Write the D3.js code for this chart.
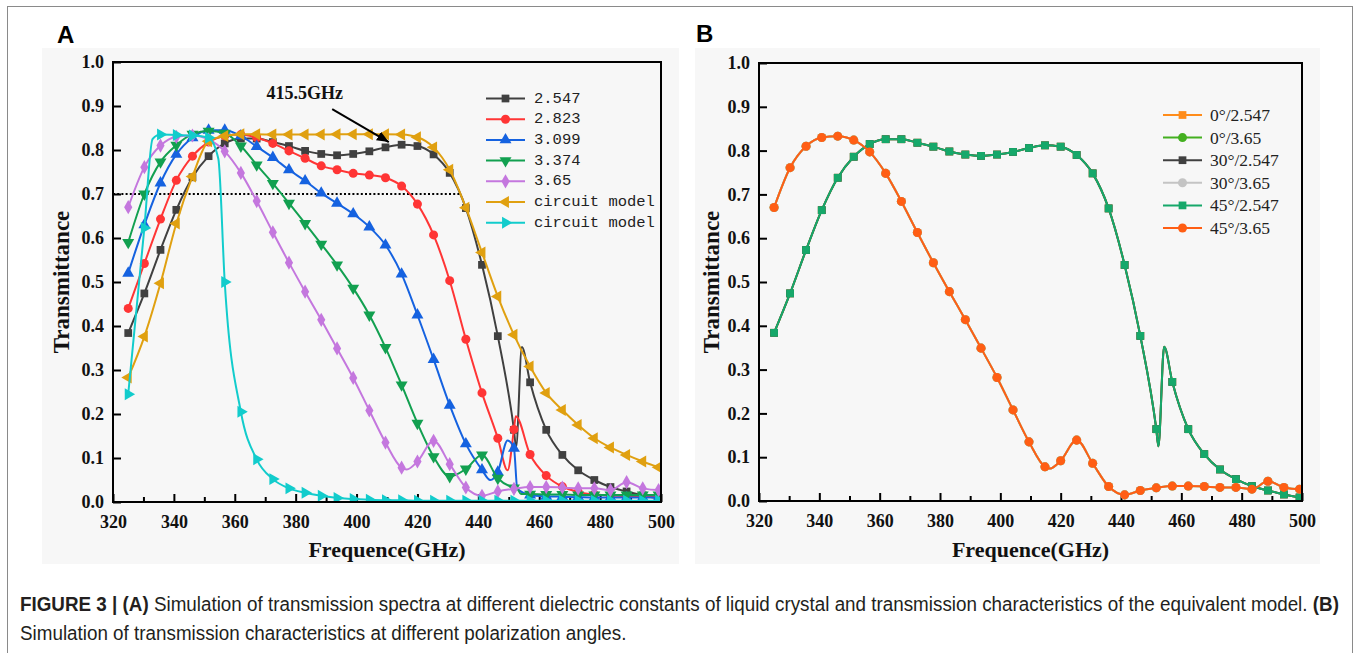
<!DOCTYPE html>
<html><head><meta charset="utf-8">
<script src="https://cdn.jsdelivr.net/npm/d3@7"></script>
<style>body{margin:0;background:#fff} svg{display:block}</style>
</head><body>
<svg id="c" width="1356" height="653"></svg>
<script>
// ---------- DATA ----------
const markerFreq = [325,330.3,335.6,340.8,346.1,351.4,356.7,362.0,367.2,372.5,377.8,383.1,388.4,393.6,398.9,404.2,409.5,414.8,420.0,425.3,430.6,435.9,441.2,446.4,451.7,457.0,462.3,467.6,472.8,478.1,483.4,488.7,494.0,499.2];

const v2547 = [0.384,0.474,0.573,0.664,0.738,0.786,0.815,0.826,0.826,0.818,0.809,0.798,0.791,0.788,0.791,0.797,0.806,0.812,0.809,0.790,0.748,0.668,0.539,0.377,0.164,0.272,0.164,0.107,0.072,0.050,0.034,0.024,0.015,0.008];
const e2547 = [[452.4,0.125],[454.3,0.352],[500,0.007]];

const v2823 = [0.440,0.542,0.643,0.731,0.786,0.818,0.832,0.835,0.828,0.815,0.798,0.781,0.764,0.755,0.747,0.743,0.737,0.718,0.677,0.607,0.503,0.370,0.248,0.145,0.165,0.108,0.060,0.035,0.023,0.017,0.015,0.013,0.012,0.012];
const e2823 = [[449.6,0.072],[452.3,0.195],[500,0.012]];

const v3099 = [0.520,0.630,0.725,0.790,0.828,0.845,0.845,0.832,0.808,0.783,0.755,0.730,0.702,0.679,0.655,0.625,0.584,0.518,0.425,0.324,0.220,0.132,0.073,0.068,0.122,0.016,0.013,0.012,0.011,0.010,0.010,0.010,0.010,0.010];
const e3099 = [[443.9,0.050],[449.6,0.140],[452.8,0.030],[500,0.010]];

const v3374 = [0.590,0.700,0.773,0.811,0.836,0.843,0.838,0.809,0.766,0.724,0.679,0.633,0.586,0.539,0.486,0.425,0.351,0.266,0.179,0.103,0.058,0.075,0.107,0.054,0.032,0.018,0.017,0.017,0.016,0.016,0.016,0.016,0.016,0.016];
const e3374 = [[452.8,0.030],[454.0,0.018],[500,0.016]];

const v365 = [0.670,0.761,0.810,0.830,0.833,0.824,0.797,0.748,0.684,0.613,0.544,0.478,0.414,0.349,0.282,0.208,0.135,0.078,0.092,0.139,0.086,0.033,0.014,0.024,0.030,0.034,0.034,0.033,0.031,0.031,0.027,0.045,0.031,0.027];
const e365 = [[416.5,0.074],[500,0.027]];

const vCircGold = [0.283,0.376,0.497,0.633,0.740,0.820,0.832,0.836,0.836,0.835,0.835,0.835,0.835,0.836,0.836,0.836,0.836,0.835,0.829,0.806,0.755,0.669,0.567,0.467,0.380,0.308,0.248,0.209,0.175,0.145,0.124,0.107,0.092,0.079];
const eCircGold = [[500,0.077]];

const vCircCyan = [0.245,0.623,0.835,0.834,0.833,0.828,0.500,0.205,0.097,0.052,0.031,0.021,0.014,0.009,0.007,0.005,0.004,0.004,0.003,0.003,0.003,0.003,0.003,0.003,0.003,0.003,0.003,0.003,0.003,0.003,0.003,0.003,0.003,0.003];
const eCircCyan = [[333.0,0.825],[354.6,0.78],[500,0.003]];

const seriesA = [
  {name:"2.547", vals:v2547, extra:e2547, color:"#404040", sym:"square"},
  {name:"2.823", vals:v2823, extra:e2823, color:"#FF3535", sym:"circle"},
  {name:"3.099", vals:v3099, extra:e3099, color:"#1562E0", sym:"up"},
  {name:"3.374", vals:v3374, extra:e3374, color:"#12A050", sym:"down"},
  {name:"3.65", vals:v365, extra:e365, color:"#C477DE", sym:"diamond"},
  {name:"circuit model", vals:vCircGold, extra:eCircGold, color:"#E0A010", sym:"left"},
  {name:"circuit model", vals:vCircCyan, extra:eCircCyan, color:"#12CCCC", sym:"right"}
];

const seriesB = [
  {name:"0°/2.547", vals:v2547, extra:e2547, color:"#FF8C1A", sym:"square"},
  {name:"0°/3.65", vals:v365, extra:e365, color:"#44B020", sym:"circle"},
  {name:"30°/2.547", vals:v2547, extra:e2547, color:"#404040", sym:"square"},
  {name:"30°/3.65", vals:v365, extra:e365, color:"#C4C4C4", sym:"circle"},
  {name:"45°/2.547", vals:v2547, extra:e2547, color:"#16A86A", sym:"square"},
  {name:"45°/3.65", vals:v365, extra:e365, color:"#FF5E14", sym:"circle"}
];

const xTicks = [320,340,360,380,400,420,440,460,480,500];
const xMinor = [330,350,370,390,410,430,450,470,490];
const yTicks = [0,0.1,0.2,0.3,0.4,0.5,0.6,0.7,0.8,0.9,1.0];

const captionLine1 = [["FIGURE 3 | (A)",true],[" Simulation of transmission spectra at different dielectric constants of liquid crystal and transmission characteristics of the equivalent model. ",false],["(B)",true]];
const captionLine2 = "Simulation of transmission characteristics at different polarization angles.";

// ---------- DRAW ----------
const svg = d3.select("#c");
const SERIF = "'Liberation Serif','Times New Roman',serif";

svg.append("rect").attr("x",7.5).attr("y",6.5).attr("width",1345).attr("height",660)
  .attr("fill","none").attr("stroke","#8a8a8a").attr("stroke-width",1);

svg.append("rect").attr("x",42).attr("y",48).attr("width",637).attr("height",516).attr("fill","#f7f7f7");
svg.append("rect").attr("x",695).attr("y",48).attr("width",625).attr("height",516).attr("fill","#f7f7f7");

svg.append("text").attr("x",57).attr("y",43).text("A")
  .style("font-family","'Liberation Sans',Arial,sans-serif").style("font-weight","bold").style("font-size","24px");
svg.append("text").attr("x",696).attr("y",42).text("B")
  .style("font-family","'Liberation Sans',Arial,sans-serif").style("font-weight","bold").style("font-size","24px");

const defs = svg.append("defs");
defs.append("marker").attr("id","arrow").attr("viewBox","0 0 12 10").attr("refX",12).attr("refY",5)
  .attr("markerWidth",12).attr("markerHeight",10).attr("markerUnits","userSpaceOnUse").attr("orient","auto")
  .append("path").attr("d","M0,0 L12,5 L0,10 Z").attr("fill","#000");

function symPath(sym, size){
  const map = {square:d3.symbolSquare, circle:d3.symbolCircle, up:d3.symbolTriangle, down:d3.symbolTriangle,
               left:d3.symbolTriangle, right:d3.symbolTriangle, diamond:d3.symbolDiamond};
  return d3.symbol().type(map[sym]).size(size)();
}
const rot = {square:0,circle:0,up:0,down:180,left:-90,right:90,diamond:0};
const symSize = {square:60,circle:64,up:62,down:62,left:62,right:62,diamond:58};

function drawPanel(cfg){
  const x = d3.scaleLinear().domain([320,500]).range([cfg.x0,cfg.x1]);
  const y = d3.scaleLinear().domain([0,1]).range([cfg.y0,cfg.y1]);
  const g = svg.append("g");
  const clipId = "clip"+cfg.id;
  defs.append("clipPath").attr("id",clipId).append("rect")
    .attr("x",cfg.x0).attr("y",cfg.y1).attr("width",cfg.x1-cfg.x0).attr("height",cfg.y0-cfg.y1);

  const ax = g.append("g").attr("transform",`translate(0,${cfg.y0})`)
    .call(d3.axisBottom(x).tickValues(xTicks).tickSize(-8).tickPadding(13).tickFormat(d3.format("d")));
  const axm = g.append("g").attr("transform",`translate(0,${cfg.y0})`)
    .call(d3.axisBottom(x).tickValues(xMinor).tickSize(-5).tickFormat(""));
  const ay = g.append("g").attr("transform",`translate(${cfg.x0},0)`)
    .call(d3.axisLeft(y).tickValues(yTicks).tickSize(-8).tickPadding(9).tickFormat(d3.format(".1f")));
  [ax,axm,ay].forEach(a=>{
    a.select(".domain").remove();
    a.selectAll(".tick line").attr("stroke","#000").attr("stroke-width",2);
    a.selectAll("text").style("font-family",SERIF).style("font-weight","bold").style("font-size","18px").attr("fill","#111");
  });

  const line = d3.line().x(d=>x(d[0])).y(d=>y(d[1])).curve(d3.curveMonotoneX);
  const dg = g.append("g").attr("clip-path",`url(#${clipId})`);
  if (cfg.extraDraw) cfg.extraDraw(dg, x, y);
  cfg.series.forEach(s=>{
    const pts = markerFreq.map((f,i)=>[f,s.vals[i]]).concat(s.extra).sort((a,b)=>a[0]-b[0]);
    dg.append("path").attr("d",line(pts)).attr("fill","none").attr("stroke",s.color).attr("stroke-width",2);
    dg.selectAll(null).data(markerFreq.map((f,i)=>[f,s.vals[i]])).enter().append("path")
      .attr("d",symPath(s.sym,symSize[s.sym]))
      .attr("transform",d=>`translate(${x(d[0])},${y(d[1])}) rotate(${rot[s.sym]})`)
      .attr("fill",s.color);
  });

  g.append("rect").attr("x",cfg.x0).attr("y",cfg.y1).attr("width",cfg.x1-cfg.x0).attr("height",cfg.y0-cfg.y1)
    .attr("fill","none").attr("stroke","#000").attr("stroke-width",2);

  g.append("text").attr("transform",`translate(${cfg.ylabX},${(cfg.y0+cfg.y1)/2}) rotate(-90)`)
    .attr("text-anchor","middle").attr("dominant-baseline","central").text("Transmittance")
    .style("font-family",SERIF).style("font-weight","bold").style("font-size","23px").attr("fill","#111");
  g.append("text").attr("x",(cfg.x0+cfg.x1)/2).attr("y",557).attr("text-anchor","middle").text("Frequence(GHz)")
    .style("font-family",SERIF).style("font-weight","bold").style("font-size","22px").attr("fill","#111");

  const lg = g.append("g");
  cfg.series.forEach((s,i)=>{
    const ly = cfg.leg.y + i*cfg.leg.dy;
    lg.append("line").attr("x1",cfg.leg.x1).attr("x2",cfg.leg.x2).attr("y1",ly).attr("y2",ly)
      .attr("stroke",s.color).attr("stroke-width",2);
    lg.append("path").attr("d",symPath(s.sym,symSize[s.sym]))
      .attr("transform",`translate(${(cfg.leg.x1+cfg.leg.x2)/2},${ly}) rotate(${rot[s.sym]})`).attr("fill",s.color);
    lg.append("text").attr("x",cfg.leg.tx).attr("y",ly).attr("dominant-baseline","central").text(s.name)
      .style("font-family",cfg.leg.font).style("font-size",cfg.leg.size).attr("fill","#222");
  });
  return {x,y,g};
}

const A = drawPanel({id:"A", x0:113, x1:661, y0:502, y1:62, ylabX:61, series:seriesA,
  leg:{x1:486,x2:525,tx:534,y:98.5,dy:20.7,font:"'Liberation Mono','Courier New',monospace",size:"15.5px"},
  extraDraw:(dg,x,y)=>{
    dg.append("line").attr("x1",x(320)).attr("x2",x(434)).attr("y1",y(0.7)).attr("y2",y(0.7))
      .attr("stroke","#000").attr("stroke-width",2).attr("stroke-dasharray","2,2.2");
  }});

A.g.append("text").attr("x",A.x(383)).attr("y",A.y(0.915)).attr("text-anchor","middle").text("415.5GHz")
  .style("font-family",SERIF).style("font-weight","bold").style("font-size","18px").attr("fill","#111");
A.g.append("line").attr("x1",A.x(392)).attr("y1",A.y(0.893)).attr("x2",A.x(410.6)).attr("y2",A.y(0.818))
  .attr("stroke","#000").attr("stroke-width",2).attr("marker-end","url(#arrow)");

drawPanel({id:"B", x0:759, x1:1302, y0:501, y1:63, ylabX:711, series:seriesB,
  leg:{x1:1163,x2:1202,tx:1210,y:115,dy:22.6,font:SERIF,size:"17.5px"}});

const CAPF = "'Liberation Sans Narrow','Liberation Sans',Arial,sans-serif";
const c1 = svg.append("text").attr("x",0).attr("y",0).style("font-family",CAPF).style("font-size","19.5px").attr("fill","#231f20");
captionLine1.forEach(([t,b])=>c1.append("tspan").text(t).style("font-weight",b?"bold":"normal"));
const c2 = svg.append("text").attr("x",0).attr("y",0).style("font-family",CAPF).style("font-size","19.5px").attr("fill","#231f20").text(captionLine2);
const len1 = c1.node().getComputedTextLength();
const k = 1320/len1;
c1.attr("transform",`translate(20,611) scale(${k},1)`);
c2.attr("transform",`translate(20,640) scale(${k},1)`);
</script>
</body></html>
